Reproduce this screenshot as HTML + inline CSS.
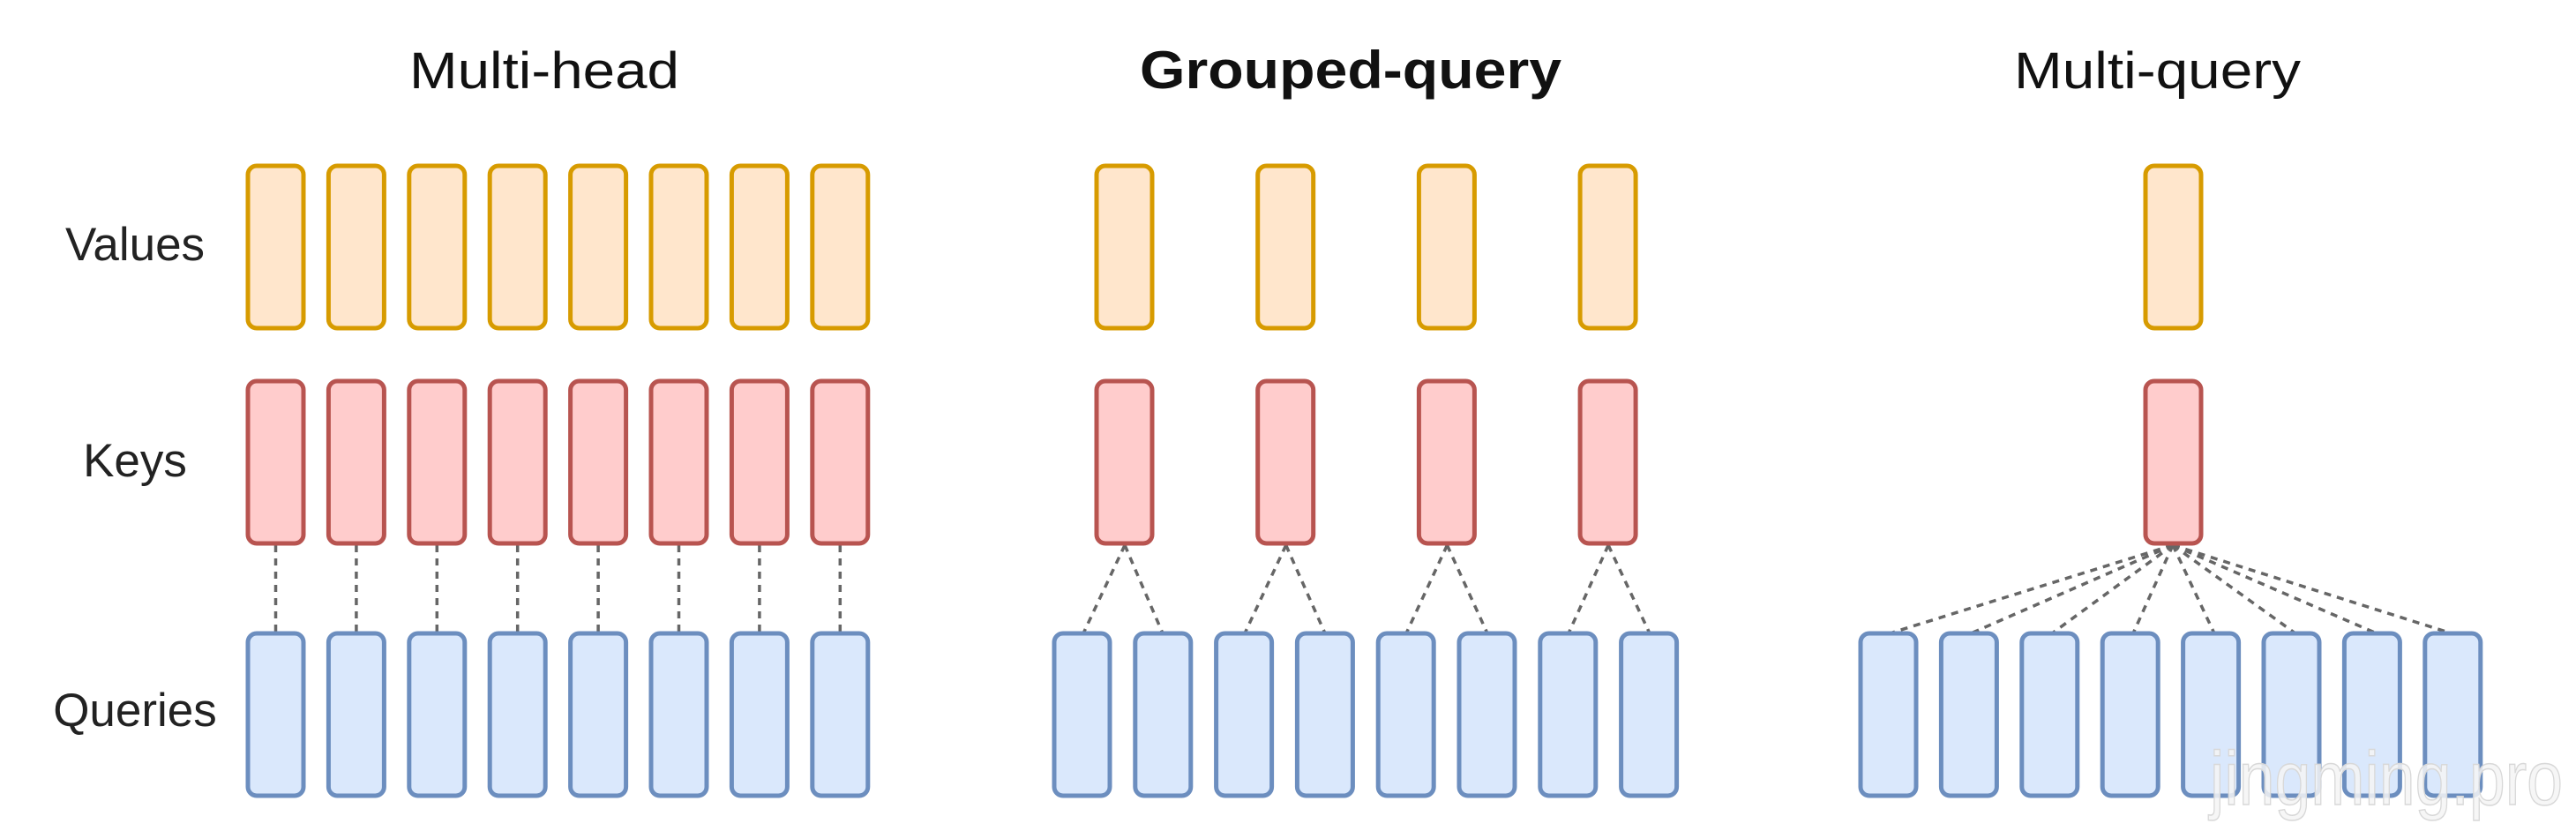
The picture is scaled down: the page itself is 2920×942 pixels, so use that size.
<!DOCTYPE html>
<html><head><meta charset="utf-8"><style>html,body{margin:0;padding:0;background:#fff}svg{display:block}</style></head>
<body>
<svg width="2920" height="942" viewBox="0 0 2920 942" xmlns="http://www.w3.org/2000/svg" font-family="Liberation Sans, Arial, sans-serif">
<rect width="2920" height="942" fill="#fff"/>
<defs>
<rect id="v" width="63" height="184" rx="10" fill="#ffe6cc" stroke="#d79b00" stroke-width="5"/>
<rect id="k" width="63" height="184" rx="10" fill="#ffcccc" stroke="#b85450" stroke-width="5"/>
<rect id="q" width="63" height="184" rx="10" fill="#dae8fc" stroke="#6c8ebf" stroke-width="5"/>
</defs>
<g fill="#111" font-size="58">
<text x="464" y="100" textLength="306" lengthAdjust="spacingAndGlyphs">Multi-head</text>
<text x="1292" y="100" font-weight="bold" textLength="478" lengthAdjust="spacingAndGlyphs" font-size="60">Grouped-query</text>
<text x="2283" y="100" textLength="325" lengthAdjust="spacingAndGlyphs">Multi-query</text>
</g>
<g fill="#222" font-size="53" text-anchor="middle">
<text x="153" y="295">Values</text>
<text x="153" y="540">Keys</text>
<text x="153" y="823">Queries</text>
</g>
<g stroke="#666" stroke-width="3.5" stroke-dasharray="8 7" fill="none">
<path d="M312.5 618V717M403.9 618V717M495.3 618V717M586.7 618V717M678.1 618V717M769.5 618V717M860.9 618V717M952.3 618V717"/>
<path d="M1275 618L1228 718M1275 618L1318 718M1457.7 618L1411 718M1457.7 618L1502 718M1640.4 618L1594 718M1640.4 618L1686 718M1823.1 618L1778 718M1823.1 618L1870 718"/>
<path d="M2463 618L2142 718M2463 618L2234 718M2463 618L2326 718M2463 618L2418 718M2463 618L2510 718M2463 618L2602 718M2463 618L2694 718M2463 618L2779 718"/>
</g>
<g>
<use href="#v" x="281" y="188"/><use href="#v" x="372.4" y="188"/><use href="#v" x="463.8" y="188"/><use href="#v" x="555.2" y="188"/><use href="#v" x="646.6" y="188"/><use href="#v" x="738" y="188"/><use href="#v" x="829.4" y="188"/><use href="#v" x="920.8" y="188"/>
<use href="#k" x="281" y="432"/><use href="#k" x="372.4" y="432"/><use href="#k" x="463.8" y="432"/><use href="#k" x="555.2" y="432"/><use href="#k" x="646.6" y="432"/><use href="#k" x="738" y="432"/><use href="#k" x="829.4" y="432"/><use href="#k" x="920.8" y="432"/>
<use href="#q" x="281" y="718"/><use href="#q" x="372.4" y="718"/><use href="#q" x="463.8" y="718"/><use href="#q" x="555.2" y="718"/><use href="#q" x="646.6" y="718"/><use href="#q" x="738" y="718"/><use href="#q" x="829.4" y="718"/><use href="#q" x="920.8" y="718"/>
</g>
<g>
<use href="#v" x="1243" y="188"/><use href="#v" x="1425.7" y="188"/><use href="#v" x="1608.4" y="188"/><use href="#v" x="1791.1" y="188"/>
<use href="#k" x="1243" y="432"/><use href="#k" x="1425.7" y="432"/><use href="#k" x="1608.4" y="432"/><use href="#k" x="1791.1" y="432"/>
<use href="#q" x="1195" y="718"/><use href="#q" x="1286.8" y="718"/><use href="#q" x="1378.6" y="718"/><use href="#q" x="1470.4" y="718"/><use href="#q" x="1562.2" y="718"/><use href="#q" x="1654" y="718"/><use href="#q" x="1745.8" y="718"/><use href="#q" x="1837.6" y="718"/>
</g>
<g>
<use href="#v" x="2432" y="188"/>
<use href="#k" x="2432" y="432"/>
<use href="#q" x="2109" y="718"/><use href="#q" x="2200.4" y="718"/><use href="#q" x="2291.8" y="718"/><use href="#q" x="2383.2" y="718"/><use href="#q" x="2474.6" y="718"/><use href="#q" x="2566" y="718"/><use href="#q" x="2657.4" y="718"/><use href="#q" x="2748.8" y="718"/>
</g>
<text x="2505" y="912" font-size="86" fill="#f4f4f4" fill-opacity="0.85" stroke="#d8d8d8" stroke-width="1.5" textLength="400" lengthAdjust="spacingAndGlyphs">jingming.pro</text>
</svg>
</body></html>
